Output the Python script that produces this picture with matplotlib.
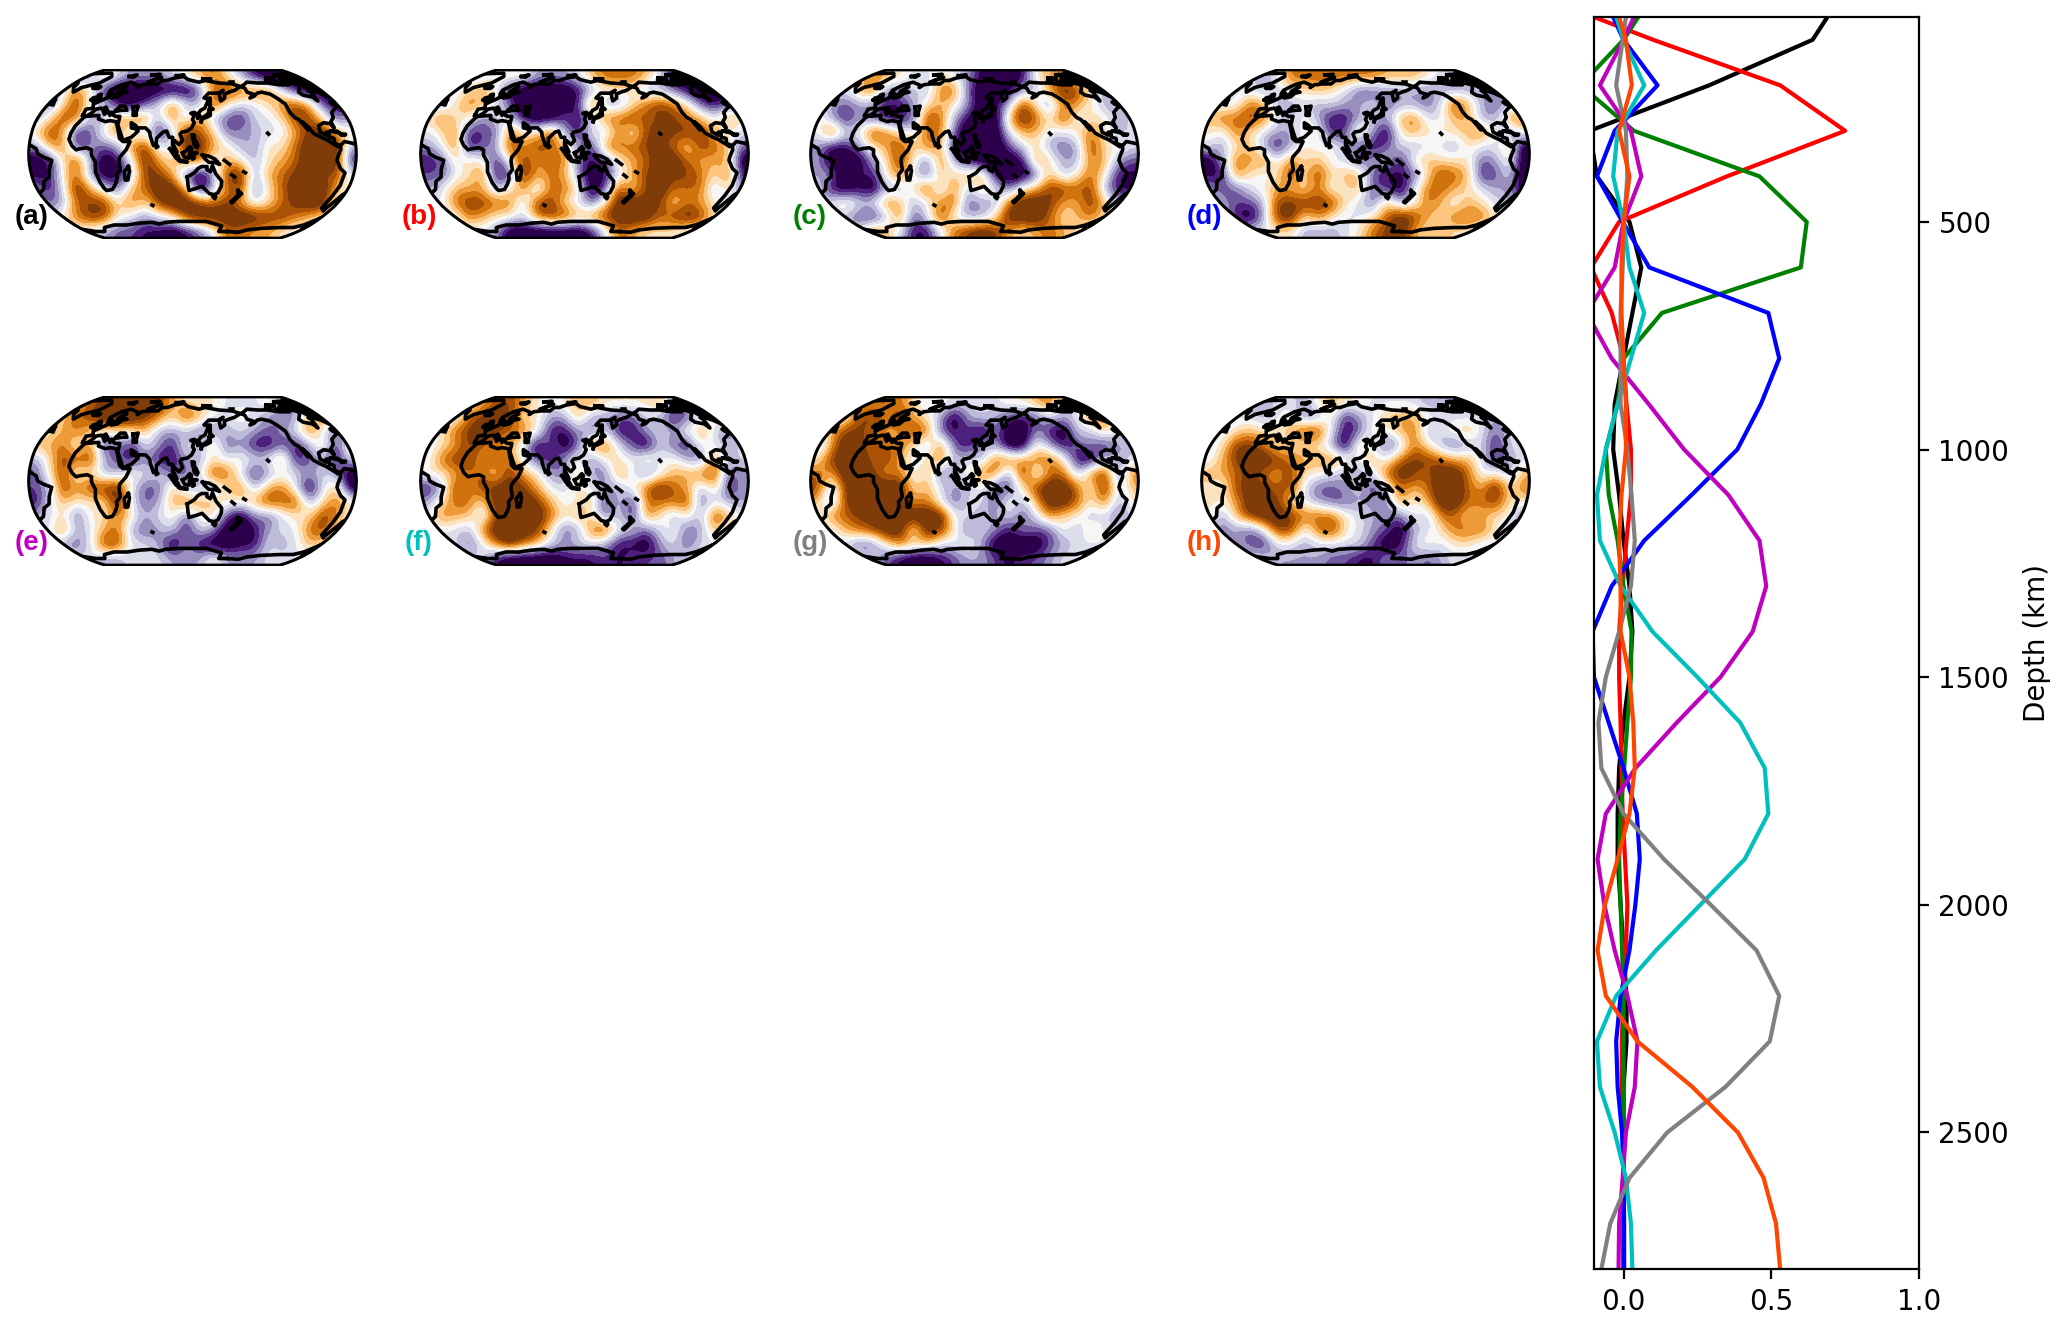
import numpy as np
import matplotlib
matplotlib.use('Agg')
import matplotlib.pyplot as plt
from matplotlib.colors import ListedColormap
from matplotlib.patches import PathPatch
from matplotlib.path import Path

W, H = 2067, 1329
CENTER_LON = 120

# depth profiles of the eight modes, one value per depth
depths = [50] + list(range(100, 2801, 100))
mode_a = [.69, .64, .29, -.115, -.09, .02, .06, .03, 0, -.03, -.035, -.015, 0, .02, .03, .02, 0, -.015, -.02, -.02, -.01, 0, .01, .01, 0, 0, 0, 0, 0]
mode_b = [-.1, .10, .53, .75, .35, -.015, -.11, -.04, 0, .01, .025, .025, .01, -.003, -.015, -.015, -.01, -.007, -.003, .005, .013, .008, 0, -.006, -.006, 0, 0, 0, 0]
mode_c = [.05, 0, -.145, .035, .46, .62, .60, .13, 0, -.02, -.06, -.05, -.02, 0, .027, .025, .013, .002, -.01, -.015, -.01, -.005, 0, 0, 0, 0, 0, 0, 0]
mode_d = [-.035, 0, .115, -.03, -.09, -.003, .087, .49, .527, .465, .385, .23, .07, -.04, -.105, -.1, -.05, 0, .045, .055, .04, .02, -.01, -.025, -.02, -.005, 0, .002, .002]
mode_e = [.035, 0, -.08, .025, .06, 0, -.03, -.125, -.04, .085, .205, .355, .46, .483, .437, .328, .18, .04, -.06, -.088, -.065, -.03, .013, .047, .038, .008, -.003, -.015, -.017]
mode_f = [-.025, 0, .07, -.02, -.035, 0, .02, .07, .025, -.02, -.06, -.09, -.08, -.01, .098, .25, .395, .478, .49, .41, .26, .11, -.025, -.09, -.08, -.03, .008, .025, .03]
mode_g = [.008, -.003, -.025, .008, .013, .002, -.003, -.01, -.01, -.01, .013, .027, .038, .025, -.015, -.06, -.085, -.075, 0, .137, .295, .45, .527, .495, .345, .148, .02, -.045, -.075]
mode_h = [-.015, .008, .028, -.015, .02, 0, -.007, -.007, 0, .008, .008, -.007, -.015, -.01, -.01, .02, .033, .038, .02, -.02, -.063, -.088, -.06, .047, .233, .387, .474, .516, .53]
modes = [mode_a, mode_b, mode_c, mode_d, mode_e, mode_f, mode_g, mode_h]
mode_colors = ['k', 'r', 'g', 'b', 'm', 'c', 'gray', 'orangered']
mode_labels = ['(a)', '(b)', '(c)', '(d)', '(e)', '(f)', '(g)', '(h)']

# map fields, 0 = deep purple ... 9 = deep brown
field_a = ["444236 433345 675310 000122", "434751 000000 278777 410002", "425844 102474 385445 786211",
           "358733 677373 732144 588523", "586125 734139 762334 468965", "367132 378449 965335 579993",
           "015830 149657 746535 679991", "115730 138862 038936 789784", "314964 267996 037825 799964",
           "423788 575899 878645 789944", "445788 543458 999998 876544", "444443 221101 247766 544444"]
field_b = ["444445 553334 677764 100123", "444565 100001 355533 210013", "435764 200011 833578 752123",
           "575524 410021 377878 876475", "457122 755831 537488 888644", "347123 868763 177788 758762",
           "125551 586772 125679 976660", "224571 196763 014688 887571", "346663 573775 028589 777362",
           "447887 738854 259988 576533", "444765 547886 789997 898544", "444443 000000 147655 544444"]
field_c = ["444576 544543 100156 643444", "444673 343772 001337 985344", "432331 135653 013852 765334",
           "531321 128731 006975 845534", "484487 547720 004664 457534", "311356 857610 002453 238554",
           "300035 852731 000175 337632", "330215 742656 610026 357511", "410103 358373 642568 878311",
           "446447 634772 337998 668633", "443213 724843 359997 567544", "444476 411478 986567 654444"]
field_d = ["444434 777777 766654 333344", "444434 556542 233333 333344", "444763 343433 423324 863234",
           "677874 353113 436744 663377", "547543 355126 305655 567425", "435631 354532 124344 354460",
           "037674 756442 341565 552350", "117545 858566 211258 761240", "322456 657456 220477 654330",
           "432238 888854 263476 465433", "441038 957544 579865 777544", "444445 533345 789656 554444"]
field_e = ["444678 999865 554445 334554", "446789 998758 644543 236754", "456755 556333 233432 347424",
           "667471 314315 362311 213616", "358783 213113 354544 712314", "258453 354422 487413 443430",
           "238688 942263 335736 740460", "146555 942367 665568 783575", "345255 753452 552032 455874",
           "447346 732341 430013 447854", "443248 844303 100114 346544", "444443 344433 353334 444444"]
field_f = ["444467 865456 655556 336644", "444789 855336 332243 124544", "457898 775113 241134 356424",
           "456876 640302 774204 215434", "478868 742135 255464 532734", "556775 865326 327424 667823",
           "138688 986445 433579 763613", "357759 998645 614177 782433", "476638 899756 524175 353864",
           "444379 998523 784424 523644", "444247 976434 431103 424444", "444441 000011 121222 344444"]
field_g = ["444576 754544 445567 446644", "444887 865303 432124 347744", "468876 687212 030031 043644",
           "369877 753721 330053 123133", "589978 645734 377677 510434", "769986 746235 772937 737827",
           "838999 956433 512589 974936", "628998 867424 425369 975735", "477888 999944 334247 553424",
           "446789 949852 431322 536444", "444225 766445 300002 344444", "444442 100123 321223 444444"]
field_h = ["444334 435655 444433 333444", "444434 523513 466654 444344", "445655 688412 546734 564244",
           "458875 555306 423753 234144", "468998 766754 647887 664134", "667876 855433 479879 974536",
           "548887 842234 147679 976957", "556998 543223 327469 977855", "536899 877754 332537 756552",
           "423248 847854 320345 777533", "443214 434444 201454 554444", "444443 333221 132323 444444"]
fields = [field_a, field_b, field_c, field_d, field_e, field_f, field_g, field_h]

# rough coastlines as (lon, lat)
africa = [(-6,36),(10,37),(11,33.5),(20,31),(25,32),(32,31),(34,28),(37,21),(39,15),(43,12),(51,12),(47,4),(40,-3),(39,-7),(40,-15),(35,-20),(35,-24),(32,-29),(27,-34),(20,-35),(18,-33),(15,-27),(12,-17),(13,-8),(9,-1),(9,4),(4,6),(-4,5),(-8,4),(-13,8),(-17,14),(-16,20),(-13,27),(-9,32),(-6,36)]
eurasia = [(-9,37),(-9,43),(-1,44),(-4,48),(2,51),(8,54),(8,57),(11,55),(14,54),(21,55),(24,59),(30,60),(22,60),(21,64),(24,66),(17,61),(18,58),(13,55),(11,59),(6,58),(5,62),(14,68),(25,71),(41,67),(40,65),(44,68),(54,69),(60,69),(68,69),(72,73),(80,73),(90,76),(105,78),(113,74),(130,71),(140,73),(160,70),(180,69),(190,66),(179,62),(170,60),(163,58),(162,54),(156,51),(156,58),(163,62),(155,59),(142,59),(135,54),(141,53),(135,44),(130,42),(127,39),(129,36),(126,34),(126,38),(122,40),(118,39),(122,37),(120,33),(122,30),(119,25),(114,22),(108,21),(106,19),(109,13),(105,9),(100,13),(99,9),(103,2),(101,3),(98,8),(98,16),(94,16),(91,22),(87,21),(80,15),(80,11),(77,8),(73,17),(72,21),(67,25),(57,25),(56,27),(50,30),(51,25),(56,24),(59,22),(52,16),(43,13),(39,21),(35,28),(35,36),(30,36),(27,37),(26,40),(23,40),(23,37),(20,40),(14,45),(12,44),(18,40),(16,38),(12,42),(9,44),(3,43),(0,39),(-5,36),(-9,37)]
caspian = [(47,45),(53,46),(53,40),(54,37),(50,37),(49,41),(47,45)]
black_sea = [(28,42),(31,46),(37,46),(41,42),(35,42),(28,41),(28,42)]
honshu = [(130,31),(132,34),(136,35),(141,37),(141,41),(140,40),(136,37),(132,35),(130,33),(130,31)]
hokkaido = [(140,42),(142,45),(145,43),(141,42),(140,42)]
sakhalin = [(142,46),(143,54),(142,54),(142,46)]
philippines = [(120,18),(122,18),(122,14),(124,12),(126,8),(125,6),(122,8),(121,13),(120,15),(120,18)]
sumatra = [(95,5),(100,2),(104,-2),(106,-6),(102,-4),(98,1),(95,5)]
java = [(105,-6),(114,-7),(114,-8),(106,-7),(105,-6)]
borneo = [(109,1),(113,3),(117,7),(119,5),(117,1),(116,-4),(111,-3),(109,1)]
sulawesi = [(120,1),(125,1),(121,0),(122,-4),(120,-5),(119,-2),(120,1)]
new_guinea = [(131,-1),(138,-2),(145,-5),(150,-10),(144,-8),(138,-8),(133,-4),(131,-1)]
australia = [(114,-22),(122,-18),(126,-14),(130,-12),(136,-12),(136,-15),(140,-17),(142,-11),(146,-19),(153,-26),(153,-31),(150,-37),(146,-39),(140,-38),(136,-35),(131,-31),(124,-33),(116,-35),(115,-31),(114,-22)]
tasmania = [(145,-41),(148,-41),(147,-43),(145,-41)]
nz_north = [(173,-35),(178,-38),(175,-41),(174,-39),(173,-35)]
nz_south = [(173,-41),(174,-42),(169,-47),(167,-46),(173,-41)]
madagascar = [(49,-12),(50,-16),(47,-25),(44,-25),(44,-17),(49,-12)]
sri_lanka = [(80,9),(82,7),(80,6),(80,9)]
solomons = [(155,-6),(161,-10)]
vanuatu = [(164,-20),(167,-22)]
fiji = [(177,-17),(179,-18)]
hawaii = [(-156,20),(-155,19)]
kerguelen = [(69,-49),(70,-49.5)]
britain = [(-5,50),(1,51),(0,54),(-3,58),(-6,57),(-3,54),(-5,52),(-5,50)]
ireland = [(-10,52),(-6,52),(-6,55),(-10,54),(-10,52)]
iceland = [(-24,65),(-14,66),(-15,64),(-22,64),(-24,65)]
svalbard = [(12,78),(22,80),(20,77),(12,78)]
franz_josef = [(48,80),(62,81),(60,80),(48,80)]
severnaya = [(92,79),(105,80),(98,78),(92,79)]
new_siberia = [(137,75),(150,75),(143,74),(137,75)]
wrangel = [(178,71),(182,71)]
novaya = [(52,71),(68,77),(56,73),(52,71)]
n_america = [(-168,66),(-156,71),(-140,70),(-125,70),(-110,68),(-95,68),(-94,72),(-85,69),(-81,68),(-87,64),(-94,60),(-92,57),(-82,55),(-80,51),(-79,55),(-77,60),(-78,62),(-70,61),(-65,59),(-56,52),(-66,50),(-65,48),(-60,46),(-66,44),(-70,42),(-74,40),(-76,35),(-81,31),(-80,25),(-83,29),(-90,30),(-97,27),(-97,21),(-91,18),(-90,21),(-87,21),(-88,16),(-83,15),(-83,10),(-77,8),(-80,7),(-85,10),(-92,14),(-97,16),(-105,20),(-109,26),(-114,31),(-110,23),(-115,30),(-117,33),(-121,35),(-124,40),(-124,48),(-130,54),(-135,58),(-145,60),(-152,59),(-158,56),(-165,54),(-158,58),(-165,60),(-165,64),(-168,66)]
greenland = [(-73,78),(-60,82),(-30,83),(-18,78),(-22,70),(-40,65),(-44,60),(-52,65),(-55,70),(-73,78)]
baffin = [(-80,73),(-70,71),(-62,66),(-65,62),(-75,65),(-80,70),(-80,73)]
victoria = [(-115,70),(-105,72),(-105,69),(-115,70)]
banks = [(-125,72),(-118,75),(-116,73),(-125,72)]
melville = [(-118,76),(-105,76),(-108,74),(-118,76)]
devon = [(-95,76),(-80,76),(-82,74),(-95,75),(-95,76)]
prince_wales = [(-102,73),(-95,74),(-96,71),(-102,73)]
axel = [(-96,80),(-88,81),(-90,78),(-96,80)]
ellesmere = [(-90,80),(-70,83),(-62,82),(-80,77),(-90,80)]
newfoundland = [(-59,48),(-53,47),(-56,51),(-59,48)]
cuba = [(-85,22),(-75,20),(-78,22),(-85,22)]
hispaniola = [(-74,19),(-69,19),(-70,18),(-74,18),(-74,19)]
s_america = [(-77,8),(-72,12),(-62,10),(-52,5),(-50,0),(-44,-3),(-35,-6),(-39,-15),(-41,-22),(-48,-26),(-53,-34),(-57,-36),(-62,-39),(-65,-45),(-68,-52),(-68,-55),(-74,-52),(-73,-40),(-71,-30),(-70,-18),(-76,-14),(-81,-6),(-80,-2),(-77,4),(-77,8)]
antarctica = [(-180,-78),(-160,-79),(-150,-76),(-130,-74),(-100,-73),(-80,-73),(-70,-70),(-60,-63),(-62,-68),(-62,-75),(-45,-78),(-30,-78),(-20,-73),(0,-70),(20,-70),(40,-68),(60,-67),(70,-69),(80,-67),(100,-66),(120,-66),(140,-66),(165,-71),(165,-78),(180,-78)]
coasts = [africa, eurasia, caspian, black_sea, honshu, hokkaido, sakhalin, philippines, sumatra, java, borneo,
          sulawesi, new_guinea, australia, tasmania, nz_north, nz_south, madagascar, sri_lanka, solomons, vanuatu,
          fiji, hawaii, kerguelen, britain, ireland, iceland, svalbard, franz_josef, severnaya, new_siberia, wrangel,
          novaya, n_america, greenland, baffin, victoria, banks, melville, devon, prince_wales, axel, ellesmere,
          newfoundland, cuba, hispaniola, s_america, antarctica]

# Robinson projection table
rob_lat = np.arange(0, 95, 5)
rob_x = [1, .9986, .9954, .99, .9822, .973, .96, .9427, .9216, .8962, .8679, .835, .7986, .7597, .7186, .6732, .6213, .5722, .5322]
rob_y = [0, .062, .124, .186, .248, .31, .372, .434, .4958, .5571, .6176, .6769, .7346, .7903, .8435, .8936, .9394, .9761, 1]
XMAX = 0.8487 * np.pi
YMAX = 1.3523


def robinson(rel_lon, lat):
    rel_lon = np.asarray(rel_lon, float)
    lat = np.asarray(lat, float)
    a = np.abs(lat)
    px = np.interp(a, rob_lat, rob_x)
    py = np.interp(a, rob_lat, rob_y)
    return 0.8487 * px * np.radians(rel_lon), 1.3523 * py * np.sign(lat)


def split_coast(coast):
    # cut the line where it crosses the map edge
    lons, lats = [], []
    prev = None
    for lon, lat in coast:
        rel = (lon - CENTER_LON + 180) % 360 - 180
        if prev is not None and abs(rel - prev[0]) > 180:
            edge = 180 if prev[0] > 0 else -180
            other = rel + 360 if prev[0] > 0 else rel - 360
            t = (edge - prev[0]) / (other - prev[0])
            mid = prev[1] + t * (lat - prev[1])
            lons += [edge, np.nan, -edge]
            lats += [mid, np.nan, mid]
        lons.append(rel)
        lats.append(lat)
        prev = (rel, lat)
    return np.array(lons), np.array(lats)


def px_axes(fig, left, top, right, bottom):
    return fig.add_axes([left / W, 1 - bottom / H, (right - left) / W, (bottom - top) / H])


def boundary_path():
    la = np.linspace(-90, 90, 91)
    x1, y1 = robinson(np.full_like(la, 180), la)
    x2, y2 = robinson(np.full_like(la, -180), la[::-1])
    return Path(np.column_stack([np.r_[x1, x2, x1[0]], np.r_[y1, y2, y1[0]]]), closed=True)


def plot_map(ax, rows, cmap):
    grid = np.array([[int(c) for c in r.replace(' ', '')] for r in rows], float) - 4.5
    im = ax.imshow(grid, cmap=cmap, vmin=-3.7, vmax=3.7, extent=(-XMAX, XMAX, -YMAX, YMAX),
                   interpolation='bicubic', interpolation_stage='data', aspect='auto')
    edge = PathPatch(boundary_path(), facecolor='none', edgecolor='k', linewidth=1.1, zorder=5)
    ax.add_patch(edge)
    im.set_clip_path(edge)
    for coast in coasts:
        lo, la = split_coast(coast)
        x, y = robinson(lo, la)
        line, = ax.plot(x, y, color='k', linewidth=1.3, solid_joinstyle='round', zorder=4)
        line.set_clip_path(edge)
    ax.set_xlim(-XMAX * 1.01, XMAX * 1.01)
    ax.set_ylim(-YMAX * 1.01, YMAX * 1.01)
    ax.axis('off')


def main():
    fig = plt.figure(figsize=(W / 200, H / 200), dpi=200)

    base = plt.get_cmap('PuOr_r')
    cmap = ListedColormap(base(np.linspace(0, 1, 13)))

    lefts = [29, 421, 811, 1202]
    label_x = [32, 419, 810, 1204]
    tops = [70, 397]
    for i, rows in enumerate(fields):
        col, row = i % 4, i // 4
        ax = px_axes(fig, lefts[col] - 2, tops[row] - 1, lefts[col] + 329, tops[row] + 169)
        plot_map(ax, rows, cmap)
        fig.text(label_x[col] / W, 1 - (217 + row * 326) / H, mode_labels[i], color=mode_colors[i],
                 fontsize=10, fontweight='bold', family='Liberation Sans', ha='center', va='center')

    ax = px_axes(fig, 1594, 17, 1919, 1269)
    for values, color in zip(modes, mode_colors):
        ax.plot(values, depths, color=color, linewidth=1.5)
    ax.set_xlim(-0.1, 1.0)
    ax.set_ylim(2800, 50)
    ax.set_xticks([0, 0.5, 1.0])
    ax.set_yticks([500, 1000, 1500, 2000, 2500])
    ax.yaxis.tick_right()
    ax.yaxis.set_label_position('right')
    ax.set_ylabel('Depth (km)', labelpad=5)

    fig.savefig('out.png', dpi=200)


if __name__ == '__main__':
    main()
